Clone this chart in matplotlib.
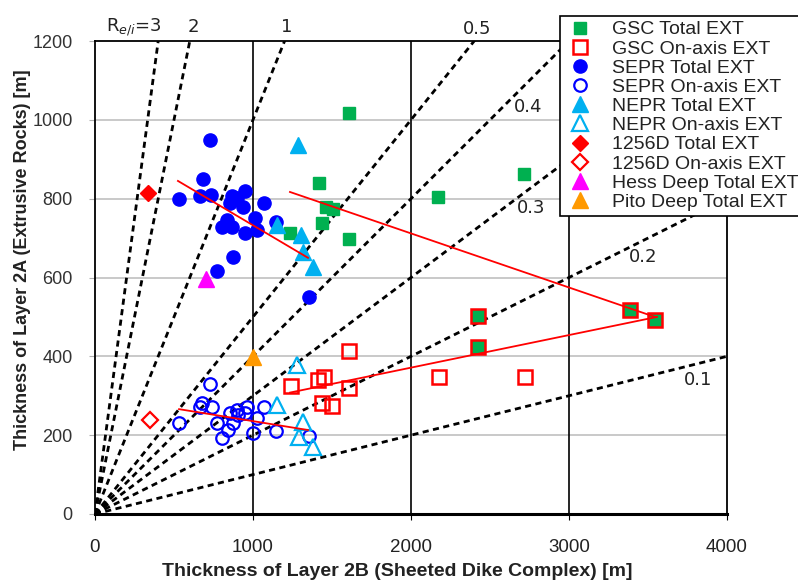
import matplotlib
matplotlib.use("Agg")
import matplotlib.pyplot as plt
import numpy as np

# ---------------- data ----------------
gsc_total_x = [1608, 1418, 1462, 1506, 1437, 1234, 1608, 2171, 2715, 2424, 2424, 3386, 3544]
gsc_total_y = [1018, 840, 779, 774, 739, 713, 698, 805, 863, 503, 424, 518, 492]

gsc_onaxis_x = [1608, 1241, 1411, 1449, 1608, 1437, 1500, 2177, 2722, 2424, 2424, 3386, 3544]
gsc_onaxis_y = [414, 325, 340, 347, 320, 282, 274, 348, 348, 503, 424, 518, 492]

sepr_total_x = [728, 683, 532, 665, 734, 867, 949, 899, 937, 854, 1070, 1013, 835, 804, 867, 949, 1025, 1146, 873, 772, 1354]
sepr_total_y = [949, 850, 800, 807, 810, 807, 820, 802, 779, 789, 789, 751, 746, 728, 728, 713, 721, 741, 652, 617, 551]

sepr_onaxis_x = [728, 532, 677, 741, 665, 772, 804, 842, 873, 854, 899, 962, 949, 1025, 1000, 1070, 1146, 1354, 905]
sepr_onaxis_y = [330, 231, 282, 272, 272, 231, 193, 213, 231, 256, 264, 272, 256, 244, 206, 272, 211, 198, 251]

nepr_total_x = [1285, 1152, 1304, 1316, 1380]
nepr_total_y = [937, 734, 708, 665, 627]

nepr_onaxis_x = [1278, 1152, 1316, 1291, 1380]
nepr_onaxis_y = [378, 277, 233, 196, 170]

d1256_total_x = [335]
d1256_total_y = [815]
d1256_onaxis_x = [348]
d1256_onaxis_y = [239]
hess_total_x = [703]
hess_total_y = [596]
pito_total_x = [1000]
pito_total_y = [398]

# regression (trend) lines: endpoints
trend_sepr_total_x = [525, 1348]
trend_sepr_total_y = [845, 650]
trend_gsc_total_x = [1234, 3544]
trend_gsc_total_y = [817, 500]
trend_gsc_onaxis_x = [1234, 3557]
trend_gsc_onaxis_y = [308, 500]
trend_sepr_onaxis_x = [532, 1348]
trend_sepr_onaxis_y = [266, 213]

# ratio lines R_e/i = extrusive / intrusive
ratios = [3, 2, 1, 0.5, 0.4, 0.3, 0.2, 0.1]
ratio_labels = ["R$_{e/i}$=3", "2", "1", "0.5", "0.4", "0.3", "0.2", "0.1"]
ratio_label_x = [425, 620, 1215, 2418, 2741, 2759, 3468, 3816]
ratio_label_y = [1223, 1223, 1223, 1218, 1020, 764, 640, 327]

x_ticks = [0, 1000, 2000, 3000, 4000]
y_ticks = [0, 200, 400, 600, 800, 1000, 1200]

# ---------------- plot ----------------
fig = plt.figure(figsize=(7.98, 5.83), dpi=100)
ax = fig.add_axes([95/798, 69/583, (727-95)/798, (514-41)/583])
ax.set_xlim(0, 4000)
ax.set_ylim(0, 1200)

# grid
for yv in y_ticks[1:-1]:
    ax.axhline(yv, color="#c0c0c0", lw=1.2, zorder=0)
for xv in x_ticks[1:-1]:
    ax.axvline(xv, color="black", lw=1.2, zorder=0.5)

# ratio lines
xx = np.array([0, 4000.0])
for r in ratios:
    ax.plot(xx, r * xx, color="black", lw=2.0, ls=(0, (2.2, 1.6)), zorder=1, clip_on=True)

for lab, lx, ly in zip(ratio_labels, ratio_label_x, ratio_label_y):
    ha = "right" if lab.startswith("R") else "center"
    ax.text(lx, ly, lab, ha=ha, va="baseline", fontsize=13, color="#222222",
            family="DejaVu Sans", clip_on=False, zorder=6)

green = "#00B050"
blue = "#0000FF"
cyan = "#00B0F0"
red = "#FF0000"
magenta = "#FF00FF"
orange = "#FF9900"

ax.plot(gsc_total_x, gsc_total_y, ls="none", marker="s", ms=9, mfc=green, mec=green,
        label="GSC Total EXT", zorder=3)
ax.plot(gsc_onaxis_x, gsc_onaxis_y, ls="none", marker="s", ms=9.5, mfc="none", mec=red, mew=1.8,
        label="GSC On-axis EXT", zorder=3.5)
ax.plot(sepr_total_x, sepr_total_y, ls="none", marker="o", ms=9.5, mfc=blue, mec=blue,
        label="SEPR Total EXT", zorder=3)
ax.plot(sepr_onaxis_x, sepr_onaxis_y, ls="none", marker="o", ms=9, mfc="none", mec=blue, mew=1.6,
        label="SEPR On-axis EXT", zorder=3)
ax.plot(nepr_total_x, nepr_total_y, ls="none", marker="^", ms=12, mfc=cyan, mec=cyan,
        label="NEPR Total EXT", zorder=3)
ax.plot(nepr_onaxis_x, nepr_onaxis_y, ls="none", marker="^", ms=11.5, mfc="none", mec=cyan, mew=1.6,
        label="NEPR On-axis EXT", zorder=3)
ax.plot(d1256_total_x, d1256_total_y, ls="none", marker="D", ms=8.5, mfc=red, mec=red,
        label="1256D Total EXT", zorder=3)
ax.plot(d1256_onaxis_x, d1256_onaxis_y, ls="none", marker="D", ms=8, mfc="none", mec=red, mew=1.6,
        label="1256D On-axis EXT", zorder=3)
ax.plot(hess_total_x, hess_total_y, ls="none", marker="^", ms=12, mfc=magenta, mec=magenta,
        label="Hess Deep Total EXT", zorder=3)
ax.plot(pito_total_x, pito_total_y, ls="none", marker="^", ms=12, mfc=orange, mec=orange,
        label="Pito Deep Total EXT", zorder=3)

for tx, ty in [(trend_sepr_total_x, trend_sepr_total_y), (trend_gsc_total_x, trend_gsc_total_y),
               (trend_gsc_onaxis_x, trend_gsc_onaxis_y), (trend_sepr_onaxis_x, trend_sepr_onaxis_y)]:
    ax.plot(tx, ty, color=red, lw=1.3, zorder=4)

ax.set_xticks(x_ticks)
ax.set_yticks(y_ticks)
ax.set_xticklabels([str(v) for v in x_ticks], family="Liberation Sans", fontsize=13.5)
ax.set_yticklabels([str(v) for v in y_ticks], family="Liberation Sans", fontsize=13)
ax.tick_params(axis="x", direction="out", length=4, pad=14, colors="#222222", color="black")
ax.tick_params(axis="y", direction="out", length=4, pad=12, colors="#333333", color="#b0b0b0")
for s in ax.spines.values():
    s.set_color("black")
    s.set_linewidth(1.3)
ax.spines["bottom"].set_linewidth(2.2)

ax.set_xlabel("Thickness of Layer 2B (Sheeted Dike Complex) [m]", fontsize=14,
              fontweight="bold", family="Liberation Sans", color="#222222")
ax.set_ylabel("Thickness of Layer 2A (Extrusive Rocks) [m]", fontsize=13,
              fontweight="bold", family="Liberation Sans", color="#222222")
ax.xaxis.set_label_coords((397 - 95) / 632, (514 - 572) / 473)
ax.xaxis.label.set_va("center")
ax.yaxis.set_label_coords((23 - 95) / 632, (514 - 260) / 473)
ax.yaxis.label.set_va("center")

leg = fig.legend(loc="upper left", bbox_to_anchor=(560/798, 1 - 16/583),
                 borderaxespad=0, prop={"family": "Liberation Sans", "size": 14},
                 frameon=True, fancybox=False, edgecolor="black", framealpha=1,
                 labelspacing=0.08, handletextpad=0.8, borderpad=0.25, handlelength=1.6)
leg.get_frame().set_linewidth(1.2)
leg.set_zorder(10)
for t in leg.get_texts():
    t.set_color("#222222")

fig.savefig("out.png", dpi=100)
